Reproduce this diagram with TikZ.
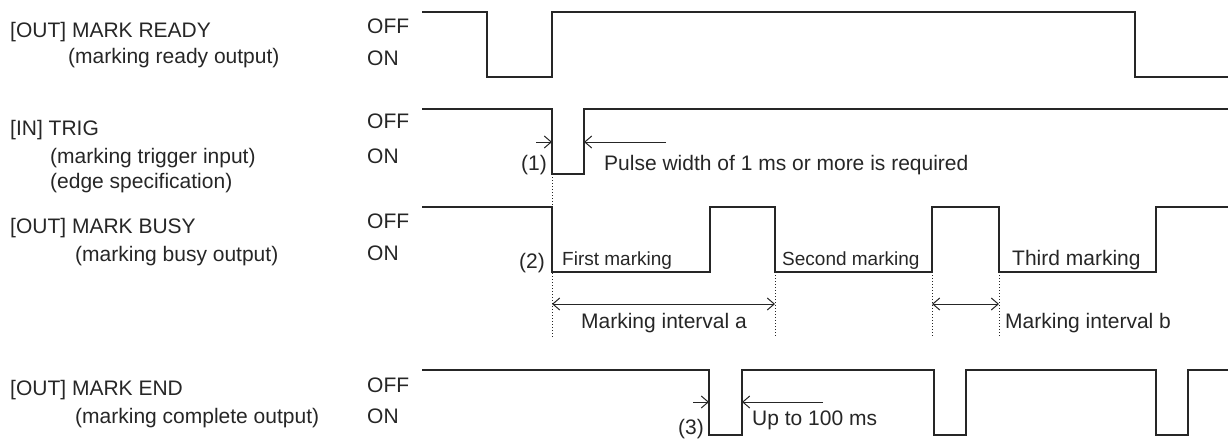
\documentclass[tikz,border=0pt]{standalone}
\usepackage{fontspec}
\setmainfont{Liberation Sans}
\usetikzlibrary{arrows.meta}

\begin{document}
\begin{tikzpicture}[x=1pt, y=-1pt,
    >={Straight Barb[length=7pt,width=12pt]},
    wave/.style={line width=1.3pt, black!85},
    wavethick/.style={line width=2.2pt, black!85},
    guide/.style={dotted, line width=1pt, black!85},
    dim/.style={line width=1pt, black!85},
    lbl/.style={anchor=base west, inner sep=0pt, text=black!85, font=\fontsize{21}{25}\selectfont},
    lblc/.style={lbl, anchor=base},
    lbls/.style={lbl, font=\fontsize{19}{23}\selectfont}]

    % Cornice
    \useasboundingbox (0,0) rectangle (1228,439);

    % Nomi dei segnali
    \node[lbl] (ready)  at (10,37)  {[OUT] MARK READY};
    \node[lbl] (readyd) at (68,63)  {(marking ready output)};
    \node[lbl] (trig)   at (10,135) {[IN] TRIG};
    \node[lbl] (trigd)  at (50,163) {(marking trigger input)};
    \node[lbl] (trige)  at (50,188) {(edge specification)};
    \node[lbl] (busy)   at (10,233) {[OUT] MARK BUSY};
    \node[lbl] (busyd)  at (75,261) {(marking busy output)};
    \node[lbl] (mend)   at (10,395) {[OUT] MARK END};
    \node[lbl] (mendd)  at (75,423) {(marking complete output)};

    % Livelli OFF / ON
    \foreach \n/\yoff/\yon in {ready/33/65, trig/128/163, busy/228/260, mend/392/423} {
        \node[lbl] (\n off) at (367,\yoff) {OFF};
        \node[lbl] (\n on)  at (367,\yon)  {ON};
    }

    % Forme d'onda
    \draw[wave] (422,12) -- (487,12) -- (487,77) -- (552,77) -- (552,12)
        -- (1135,12) -- (1135,77) -- (1228,77);
    \draw[wavethick] (422,109) -- (552,109) -- (552,174) -- (584,174)
        -- (584,109) -- (1228,109);
    \draw[wave] (422,207) -- (552,207) -- (552,272) -- (710,272) -- (710,207)
        -- (775,207) -- (775,272) -- (932,272) -- (932,207) -- (999,207)
        -- (999,272) -- (1156,272) -- (1156,207) -- (1228,207);
    \draw[wave] (422,370) -- (709,370) -- (709,435) -- (742,435) -- (742,370)
        -- (934,370) -- (934,435) -- (966,435) -- (966,370) -- (1156,370)
        -- (1156,435) -- (1188,435) -- (1188,370) -- (1228,370);

    % Linee di riferimento
    \draw[guide] (552,174) -- (552,337);
    \foreach \x in {775, 932, 999} {
        \draw[guide] (\x,272) -- (\x,337);
    }

    % Quota impulso TRIG
    \coordinate (t1) at (552,142);
    \coordinate (t2) at (584,142);
    \coordinate (t1o) at (536,142);
    \coordinate (t2o) at (666,142);
    \draw[dim, ->] (t1o) -- (t1);
    \draw[dim, ->] (t2o) -- (t2);
    \node[lbl, anchor=base east] (n1) at (547,170) {(1)};
    \node[lbl] (pulse) at (604,170) {Pulse width of 1 ms or more is required};

    % Marcature
    \node[lbl, anchor=base east] (n2) at (545,268) {(2)};
    \node[lbls] (first)  at (562,265) {First marking};
    \node[lbls] (second) at (782,265) {Second marking};
    \node[lbl]  (third)  at (1012,265) {Third marking};

    % Intervalli
    \coordinate (a1) at (552,304);
    \coordinate (a2) at (775,304);
    \coordinate (b1) at (932,304);
    \coordinate (b2) at (999,304);
    \draw[dim, <->] (a1) -- (a2);
    \draw[dim, <->] (b1) -- (b2);
    \node[lblc] (inta) at (664,328) {Marking interval a};
    \node[lbl]  (intb) at (1005,328) {Marking interval b};

    % Quota MARK END
    \coordinate (e1) at (709,402);
    \coordinate (e2) at (742,402);
    \coordinate (e1o) at (693,402);
    \coordinate (e2o) at (823,402);
    \draw[dim, ->] (e1o) -- (e1);
    \draw[dim, ->] (e2o) -- (e2);
    \node[lbl, anchor=base east] (n3) at (704,434) {(3)};
    \node[lbl] (upto) at (752,425) {Up to 100 ms};

\end{tikzpicture}
\end{document}
